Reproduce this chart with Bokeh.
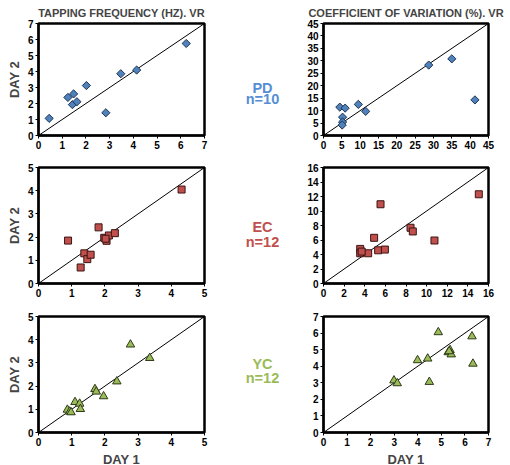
from bokeh.plotting import figure
from bokeh.layouts import column, row
from bokeh.models import Range1d, FixedTicker
from bokeh.core.properties import value
from bokeh.embed import file_html
from bokeh.resources import INLINE
import numpy as np

FONT = "Liberation Sans"

# ---------------- data ----------------
tap_ticks_pd = [0, 1, 2, 3, 4, 5, 6, 7]
tap_ticks_5 = [0, 1, 2, 3, 4, 5]
cv_ticks_pd = [0, 5, 10, 15, 20, 25, 30, 35, 40, 45]
cv_ticks_ec = [0, 2, 4, 6, 8, 10, 12, 14, 16]
cv_ticks_yc = [0, 1, 2, 3, 4, 5, 6, 7]

tap_pd_d1 = [0.45, 1.24, 1.48, 1.43, 1.62, 2.02, 2.84, 3.47, 4.14, 6.23]
tap_pd_d2 = [1.07, 2.38, 2.60, 1.93, 2.11, 3.12, 1.42, 3.86, 4.09, 5.75]

cv_pd_d1 = [4.45, 5.9, 5.2, 5.2, 5.1, 9.5, 11.5, 28.7, 35.0, 41.3]
cv_pd_d2 = [11.4, 11.0, 7.35, 5.4, 4.2, 12.5, 9.7, 28.3, 30.8, 14.3]

tap_ec_d1 = [0.89, 1.81, 1.27, 1.38, 1.47, 1.57, 1.98, 2.05, 2.12, 2.30, 4.31, 2.02]
tap_ec_d2 = [1.85, 2.42, 0.69, 1.30, 1.05, 1.24, 1.97, 1.84, 2.07, 2.17, 4.05, 1.93]

cv_ec_d1 = [3.56, 3.56, 4.33, 4.91, 5.30, 5.53, 5.95, 8.44, 8.66, 10.76, 15.06, 3.7]
cv_ec_d2 = [4.77, 4.17, 4.17, 6.30, 4.58, 10.93, 4.68, 7.69, 7.18, 5.93, 12.31, 4.4]

tap_yc_d1 = [0.87, 0.94, 0.98, 1.10, 1.24, 1.26, 1.70, 1.74, 1.96, 2.36, 2.77, 3.35]
tap_yc_d2 = [0.98, 0.90, 0.87, 1.31, 1.24, 1.01, 1.87, 1.76, 1.56, 2.20, 3.79, 3.21]

cv_yc_d1 = [2.99, 3.13, 3.99, 4.42, 4.49, 4.87, 5.29, 5.37, 5.42, 6.30, 6.34, 5.33]
cv_yc_d2 = [3.14, 2.97, 4.36, 4.46, 3.05, 6.05, 4.84, 4.97, 4.71, 5.80, 4.15, 4.9]

titles = ["TAPPING FREQUENCY (HZ). VR", "COEFFICIENT OF VARIATION (%). VR"]
groups = ["PD", "EC", "YC"]
group_n = ["n=10", "n=12", "n=12"]
group_colors = ["#558ED5", "#C0504D", "#9BBB59"]

STYLE = {
    "PD": dict(marker="square", angle=np.pi / 4, size=5.8, fill="#4F81BD", line="#1F3550"),
    "EC": dict(marker="square", angle=0, size=7, fill="#C0504D", line="#3A1413"),
    "YC": dict(marker="triangle", angle=0, size=8.5, fill="#9BBB59", line="#2E3A18"),
}


def panel(x, y, ticks, grp, fw, fh, bl, br, bt, bb, ylabel=None, xlabel=None,
          title=None, title_offset=-8):
    maxv = ticks[-1]
    p = figure(frame_width=fw, frame_height=fh, output_backend="svg", toolbar_location=None,
               x_range=Range1d(0, maxv), y_range=Range1d(0, maxv),
               min_border_left=bl, min_border_right=br, min_border_top=bt, min_border_bottom=bb)
    p.grid.visible = False
    p.outline_line_color = "black"
    p.outline_line_width = 2.5
    for ax in (p.xaxis[0], p.yaxis[0]):
        ax.ticker = FixedTicker(ticks=ticks)
        ax.major_label_text_font = FONT
        ax.major_label_text_font_style = "bold"
        ax.major_label_text_font_size = "10px"
        ax.major_label_text_color = "black"
        ax.major_tick_in = 0
        ax.major_tick_out = 3
        ax.major_tick_line_width = 1
        ax.minor_tick_line_color = None
        ax.axis_line_width = 2
        ax.major_label_standoff = 2
        ax.axis_label_text_font = FONT
        ax.axis_label_text_font_style = "bold"
        ax.axis_label_text_font_size = "13px"
        ax.axis_label_standoff = 3
    if ylabel:
        p.yaxis[0].axis_label = ylabel
    if xlabel:
        p.xaxis[0].axis_label = xlabel
    if title:
        p.title.text = title
        p.title.align = "center"
        p.title.text_font = FONT
        p.title.text_font_style = "bold"
        p.title.text_font_size = "11px"
        p.title.standoff = 9
        p.title.offset = title_offset
    p.line([0, maxv], [0, maxv], line_color="black", line_width=1)
    s = STYLE[grp]
    p.scatter(x, y, marker=s["marker"], angle=s["angle"], size=s["size"],
              fill_color=s["fill"], line_color=s["line"], line_width=1)
    return p


def mid(i, height, ys):
    p = figure(width=74, height=height, output_backend="svg", toolbar_location=None,
               x_range=Range1d(0, 1), y_range=Range1d(0, 1), min_border=0)
    p.axis.visible = False
    p.grid.visible = False
    p.outline_line_color = None
    p.text(x=[0.486, 0.486], y=ys, text=[groups[i], group_n[i]],
           text_font=value(FONT), text_font_style="bold", text_font_size="14.5px",
           text_color=group_colors[i], text_align="center", text_baseline="middle")
    return p


LFW, RFW = 166, 165
LBL, LBR = 38, 22
RBL, RBR = 23, 20

l1 = panel(tap_pd_d1, tap_pd_d2, tap_ticks_pd, "PD", LFW, 112, LBL, LBR, 22, 21,
           ylabel="DAY 2", title=titles[0], title_offset=-11)
r1 = panel(cv_pd_d1, cv_pd_d2, cv_ticks_pd, "PD", RFW, 112, RBL, RBR, 22, 21,
           title=titles[1], title_offset=-8)
m1 = mid(0, 155, [0.417, 0.318])

l2 = panel(tap_ec_d1, tap_ec_d2, tap_ticks_5, "EC", LFW, 116, LBL, LBR, 11, 18, ylabel="DAY 2")
r2 = panel(cv_ec_d1, cv_ec_d2, cv_ticks_ec, "EC", RFW, 116, RBL, RBR, 11, 18)
m2 = mid(1, 145, [0.485, 0.360])

l3 = panel(tap_yc_d1, tap_yc_d2, tap_ticks_5, "YC", LFW, 116, LBL, LBR, 15, 32,
           ylabel="DAY 2", xlabel="DAY 1")
r3 = panel(cv_yc_d1, cv_yc_d2, cv_ticks_yc, "YC", RFW, 116, RBL, RBR, 15, 32, xlabel="DAY 1")
m3 = mid(2, 163, [0.568, 0.450])

layout = column(row(l1, m1, r1), row(l2, m2, r2), row(l3, m3, r3))

open("out.html", "w").write(file_html(layout, INLINE))
